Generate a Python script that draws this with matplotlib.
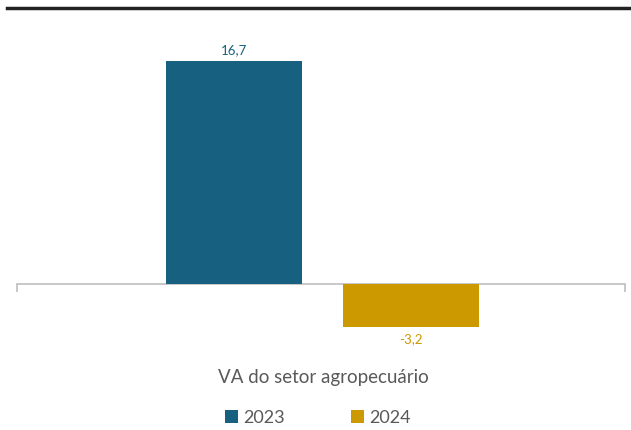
import matplotlib
matplotlib.use('Agg')
import matplotlib.pyplot as plt
from matplotlib.patches import Patch
from matplotlib.lines import Line2D
import numpy as np

category = "VA do setor agropecuário"
years = ["2023", "2024"]
values = [16.7, -3.2]
colors = ["#17607F", "#CC9900"]
offsets = [-0.143, 0.148]

plt.rcParams['font.family'] = ['Lato', 'DejaVu Sans']

fig = plt.figure(figsize=(6.31, 4.30), dpi=100)
W, H = 631, 430
ax = fig.add_axes([17 / W, (H - 340) / H, 608 / W, 300 / H])

bar_w = 0.224
for off, v, c in zip(offsets, values, colors):
    ax.bar(off, v, width=bar_w, color=c, zorder=3)
    if v >= 0:
        ax.text(off, v + 0.35, "{:.1f}".format(v).replace('.', ','), ha='center', va='bottom',
                fontsize=9.5, color=c)
    else:
        ax.text(off, v - 0.5, "{:.1f}".format(v).replace('.', ','), ha='center', va='top',
                fontsize=9.5, color=c)

ax.set_xlim(-0.5, 0.5)
ax.set_ylim(-4.19, 18.27)
for s in ['top', 'right', 'left']:
    ax.spines[s].set_visible(False)
ax.spines['bottom'].set_position(('data', 0))
ax.spines['bottom'].set_color('#bfbfbf')
ax.spines['bottom'].set_linewidth(1.2)
ax.set_yticks([])
ax.set_xticks([-0.5, 0.5])
ax.set_xticklabels([])
ax.tick_params(axis='x', length=6, width=1.2, color='#bfbfbf', direction='out')
ax.patch.set_visible(False)

fig.text(323 / W, 1 - 377 / H, category, ha='center', va='center', fontsize=13.5, color='#595959')

handles = [Patch(facecolor=c, edgecolor='none') for c in colors]
fig.legend(handles, years, loc='center', bbox_to_anchor=(318 / W, 1 - 418 / H), ncol=2,
           frameon=False, fontsize=13, handlelength=0.7, handleheight=0.7,
           handletextpad=0.3, columnspacing=3.7, labelcolor='#595959')

fig.add_artist(Line2D([7 / W, 1], [1 - 7.5 / H, 1 - 7.5 / H], color='#222222', lw=2.5))

fig.savefig('out.png', dpi=100)
